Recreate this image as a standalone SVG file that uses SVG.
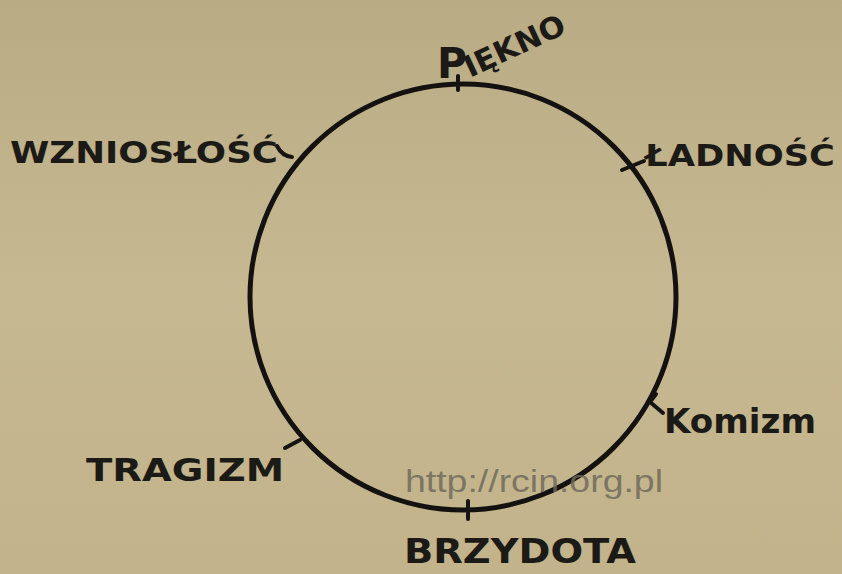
<svg xmlns="http://www.w3.org/2000/svg" width="842" height="574" viewBox="0 0 842 574">
  <defs>
    <linearGradient id="bg" x1="0" y1="0" x2="0" y2="1">
      <stop offset="0" stop-color="#b9ab84"/>
      <stop offset="0.5" stop-color="#c6b890"/>
      <stop offset="1" stop-color="#c2b38b"/>
    </linearGradient>
    <style>
      .lbl { font-family: "DejaVu Sans", "Liberation Sans", sans-serif; font-weight: bold; fill: #1c1a16; }
      .ln { fill: none; stroke: #161412; stroke-width: 4; stroke-linecap: round; }
      .wm { font-family: "Liberation Sans", Arial, sans-serif; fill: #6f6a5c; fill-opacity: 0.85; }
    </style>
  </defs>
  <rect width="842" height="574" fill="url(#bg)"/>

  <g id="circle">
    <circle cx="463" cy="297" r="213" fill="none" stroke="#141210" stroke-width="5"/>
  </g>

  <g id="connectors">
    <line class="ln" x1="458" y1="76" x2="458" y2="90"/>
    <line class="ln" x1="622" y1="170" x2="644" y2="161"/>
    <path class="ln" d="M663,413 L650,402 L656,394"/>
    <line class="ln" x1="468" y1="501" x2="468" y2="519"/>
    <line class="ln" x1="285" y1="448" x2="300" y2="440"/>
    <path class="ln" d="M277,146 Q282,156 292,157"/>
  </g>

  <g id="piekno">
    <text class="lbl" x="437" y="78" font-size="42" textLength="30" lengthAdjust="spacingAndGlyphs">P</text>
    <text class="lbl" transform="translate(470,78) rotate(-25)" font-size="30" textLength="108" lengthAdjust="spacingAndGlyphs">IĘKNO</text>
  </g>
  <g id="ladnosc">
    <text class="lbl" x="645" y="166" font-size="30" textLength="190" lengthAdjust="spacingAndGlyphs">ŁADNOŚĆ</text>
  </g>
  <g id="komizm">
    <text class="lbl" x="664" y="433" font-size="34" textLength="152" lengthAdjust="spacingAndGlyphs">Komizm</text>
  </g>
  <g id="brzydota">
    <text class="lbl" x="404" y="563" font-size="34" textLength="232" lengthAdjust="spacingAndGlyphs">BRZYDOTA</text>
  </g>
  <g id="tragizm">
    <text class="lbl" x="86" y="481" font-size="32" textLength="198" lengthAdjust="spacingAndGlyphs">TRAGIZM</text>
  </g>
  <g id="wzniosłosc">
    <text class="lbl" x="10" y="163" font-size="30" textLength="268" lengthAdjust="spacingAndGlyphs">WZNIOSŁOŚĆ</text>
  </g>

  <text class="wm" x="405" y="492" font-size="31" textLength="258" lengthAdjust="spacingAndGlyphs">http://rcin.org.pl</text>
</svg>
